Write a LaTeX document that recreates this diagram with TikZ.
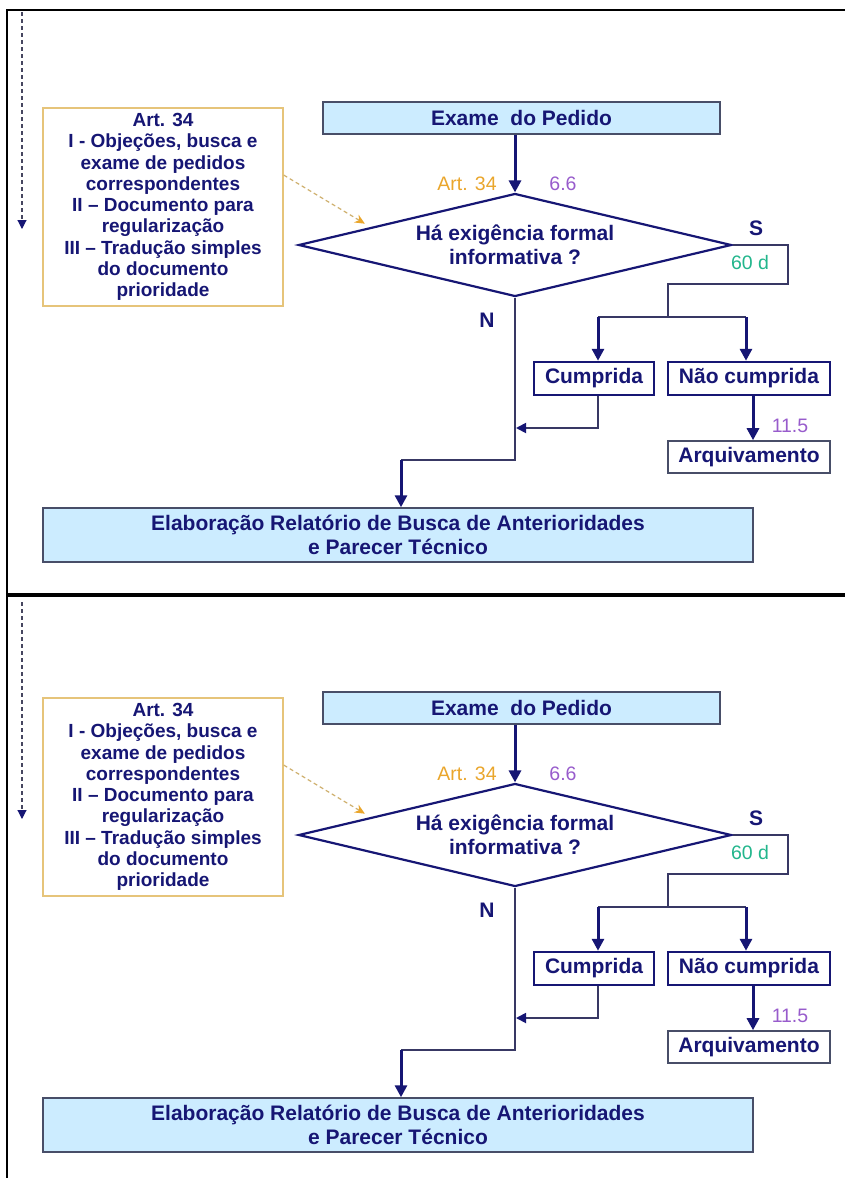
\documentclass[tikz,border=0pt]{standalone}
\usepackage{fontspec}
\setmainfont{Liberation Sans}
\usetikzlibrary{arrows.meta,shapes.geometric,calc}

\definecolor{navy}{RGB}{22,22,116}
\definecolor{linegray}{RGB}{56,56,100}
\definecolor{boxblue}{RGB}{204,236,255}
\definecolor{boxedge}{RGB}{72,78,104}
\definecolor{gold}{RGB}{230,196,122}
\definecolor{artorange}{RGB}{234,166,44}
\definecolor{itempurple}{RGB}{152,92,204}
\definecolor{dayteal}{RGB}{34,182,140}
\definecolor{guidegray}{RGB}{70,70,96}

\newcommand{\txtmain}{\fontsize{21}{24}\selectfont\bfseries}
\newcommand{\txtnote}{\fontsize{19}{21.3}\selectfont\bfseries}
\newcommand{\txtref}{\fontsize{19.5}{22}\selectfont}

\tikzset{
  every node/.style={text=navy, inner sep=0},
  bluebox/.style={draw=boxedge, line width=1.5, fill=boxblue, font=\txtmain, align=center},
  notebox/.style={draw=gold, line width=1.5, fill=white, font=\txtnote, align=center,
    minimum width=240, minimum height=198},
  decision/.style={shape=diamond, draw=navy, line width=2.2, fill=white, aspect=4.2,
    minimum width=433, minimum height=103, font=\txtmain, align=center},
  choicebox/.style={draw=navy, line width=2.5, fill=white, font=\txtmain, minimum height=33},
  plainbox/.style={draw=boxedge, line width=1.6, fill=white, font=\txtmain, minimum height=32},
  thinline/.style={draw=linegray, line width=1.8},
  flowarrow/.style={draw=navy, line width=3, -{Triangle[length=12,width=12]}},
  backarrow/.style={draw=linegray, line width=1.8, -{Triangle[length=10,width=10,color=navy]}},
  guide/.style={draw=guidegray, line width=1.1, dash pattern=on 4 off 3,
    -{Triangle[length=9,width=9,color=navy]}},
  notearrow/.style={draw=gold!90!black, line width=1.2, dash pattern=on 4 off 3,
    -{Stealth[length=10,width=9,color=artorange]}},
  reflabel/.style={font=\txtref},
}

% one copy of the flow chart; #1 = vertical offset, #2 = name suffix
\newcommand{\flowpanel}[2]{%
\begin{scope}[shift={(0,#1)}]
  \coordinate (gstart#2) at (22,12);
  \coordinate (gend#2) at (22,229);
  \draw[guide] (gstart#2) -- (gend#2);

  \node[notebox] (note#2) at (163,207)
    {Art. 34\\I - Objeções, busca e\\exame de pedidos\\correspondentes\\II – Documento para\\regularização\\III – Tradução simples\\do documento\\prioridade};

  \node[bluebox, minimum width=397, minimum height=32] (exame#2) at (521.5,118) {Exame\ \ do Pedido};
  \node[decision] (dec#2) at (515,245) {Há exigência formal\\informativa ?};

  \node[choicebox, minimum width=120] (cump#2) at (594,378.5) {Cumprida};
  \node[choicebox, minimum width=162] (naocump#2) at (749,378.5) {Não cumprida};
  \node[plainbox, minimum width=162] (arq#2) at (749,457) {Arquivamento};
  \node[bluebox, minimum width=710, minimum height=54] (elab#2) at (398,535)
    {Elaboração Relatório de Busca de Anterioridades\\e Parecer Técnico};

  % reference labels
  \node[reflabel, text=artorange] (art#2) at (467,184) {Art. 34};
  \node[reflabel, text=itempurple] (item#2) at (563,184) {6.6};
  \node[font=\txtmain] (sim#2) at (756,228) {S};
  \node[reflabel, text=dayteal] (prazo#2) at (750,263) {60 d};
  \node[font=\txtmain] (nao#2) at (487,320) {N};
  \node[reflabel, text=itempurple] (arqref#2) at (790,426) {11.5};

  % connectors
  \draw[notearrow] ($(note#2.north east)!0.34!(note#2.south east)$)
    -- ($(dec#2.west)!0.31!(dec#2.north)+(0,-5)$);
  \draw[flowarrow] (dec#2.north |- exame#2.south) -- (dec#2.north);

  \coordinate (sturn#2) at (788,284);
  \coordinate (split#2) at (668,317);
  \coordinate (lbr#2) at (598,317);
  \coordinate (rbr#2) at (746,317);
  \draw[thinline] (dec#2.east) -| (sturn#2) -| (split#2);
  \draw[thinline] (lbr#2) -- (rbr#2);
  \draw[flowarrow] (lbr#2) -- (lbr#2 |- cump#2.north);
  \draw[flowarrow] (rbr#2) -- (rbr#2 |- naocump#2.north);
  \draw[flowarrow] ([xshift=4]naocump#2.south) -- ([xshift=4]arq#2.north);

  \coordinate (merge#2) at (516,428);
  \draw[backarrow] ([xshift=4]cump#2.south) |- (merge#2);

  \coordinate (nturn#2) at (401,460);
  \draw[thinline] (dec#2.south) |- (nturn#2);
  \draw[flowarrow] (nturn#2) -- (nturn#2 |- elab#2.north);
\end{scope}}

\begin{document}
\begin{tikzpicture}[x=1pt,y=-1pt]
  \useasboundingbox (0,0) rectangle (845,1178);
  \fill[white] (0,0) rectangle (845,1178);

  % page frame and divider
  \coordinate (ftr) at (845,10);
  \coordinate (ftl) at (7,10);
  \coordinate (fbl) at (7,1178);
  \coordinate (fml) at (7,595);
  \coordinate (fmr) at (845,595);
  \draw[line width=2.5] (ftr) -- (ftl) -- (fbl);
  \draw[line width=4] (fml) -- (fmr);

  \flowpanel{0}{a}
  \flowpanel{590}{b}
\end{tikzpicture}
\end{document}
